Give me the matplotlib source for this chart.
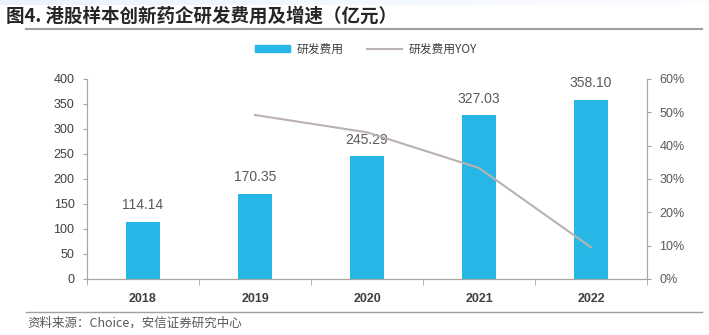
import matplotlib.pyplot as plt
import numpy as np
from matplotlib.ticker import PercentFormatter
from matplotlib.patches import Rectangle
from matplotlib.lines import Line2D

plt.rcParams['font.family'] = ['Noto Sans CJK SC', 'DejaVu Sans']

# R&D spending of HK-listed innovative drug companies (100m CNY) and YoY growth
years = ['2018', '2019', '2020', '2021', '2022']
rd_cost = [114.14, 170.35, 245.29, 327.03, 358.10]
rd_yoy = [np.nan, 0.492, 0.440, 0.333, 0.095]

bar_color = '#27B7E7'
line_color = '#BAB2B0'
axis_color = '#A6A6A6'
text_color = '#595959'

fig = plt.figure(figsize=(7.09, 3.35), dpi=100)
ax = fig.add_axes([0.1227, 0.1672, 0.7899, 0.597])
ax2 = ax.twinx()

x = np.arange(len(years))
bars = ax.bar(x, rd_cost, width=0.31, color=bar_color, zorder=2)
for b, v in zip(bars, rd_cost):
    ax.annotate(f'{v:.2f}', (b.get_x() + b.get_width() / 2, v),
                xytext=(0, 7), textcoords='offset points', ha='center', va='bottom',
                fontsize=10, color=text_color, family='Liberation Sans')

ax2.plot(x, rd_yoy, color=line_color, lw=1.5, zorder=3)

ax.set_xlim(-0.5, len(years) - 0.5)
ax.set_ylim(0, 400)
ax.set_yticks(range(0, 401, 50))
ax2.set_ylim(0, 0.6)
ax2.set_yticks(np.arange(0, 0.61, 0.1))
ax2.yaxis.set_major_formatter(PercentFormatter(1.0, decimals=0))

ax.set_xticks(x)
ax.set_xticklabels(years, fontweight='bold', family='Liberation Sans', fontsize=9, color='#404040')
ax.set_xticks(np.arange(-0.5, len(years), 1), minor=True)
ax.tick_params(axis='x', which='major', length=0, pad=10)
ax.tick_params(axis='x', which='minor', length=4, color=axis_color, direction='out')

for a in (ax, ax2):
    for s in a.spines.values():
        s.set_color(axis_color)
        s.set_linewidth(0.8)
    a.spines['top'].set_visible(False)

ax.tick_params(axis='y', length=3, color=axis_color, labelsize=9, labelcolor='#404040', pad=6)
ax2.tick_params(axis='y', length=3, color=axis_color, labelsize=9, labelcolor=text_color, pad=6)
for lbl in ax.get_yticklabels() + ax2.get_yticklabels():
    lbl.set_family('Liberation Sans')

ax.set_zorder(ax2.get_zorder() - 1)
ax.patch.set_visible(False)

# legend above the plot
handles = [Rectangle((0, 0), 1, 1, color=bar_color),
           Line2D([], [], color=line_color, lw=1.5)]
fig.legend(handles, ['研发费用', '研发费用YOY'], loc='center', bbox_to_anchor=(0.516, 0.853),
           ncol=2, frameon=False, fontsize=8.5, handlelength=3.0, handleheight=0.6,
           handletextpad=0.5, columnspacing=2.0, labelcolor='#404040')

# header band, title and rules
band = np.linspace(0, 1, 709).reshape(1, -1)
fig.figimage(np.dstack([0.92 + 0.07 * band, 0.95 + 0.04 * band,
                        np.ones_like(band), np.ones_like(band)]).repeat(5, axis=0),
             xo=0, yo=330, zorder=0)
fig.text(0.008, 0.952, '图4. 港股样本创新药企研发费用及增速（亿元）', fontsize=13.3,
         fontweight='bold', color='#262626', va='center')
fig.add_artist(Line2D([0.037, 0.99], [0.913, 0.913], color='#A0A0A0', lw=1.5))
fig.add_artist(Line2D([0.037, 0.99], [0.068, 0.068], color='#A0A0A0', lw=1.0))
fig.text(0.038, 0.035, '资料来源：Choice，安信证券研究中心', fontsize=9,
         style='italic', color='#595959', va='center')

fig.savefig('out.png', dpi=100)
